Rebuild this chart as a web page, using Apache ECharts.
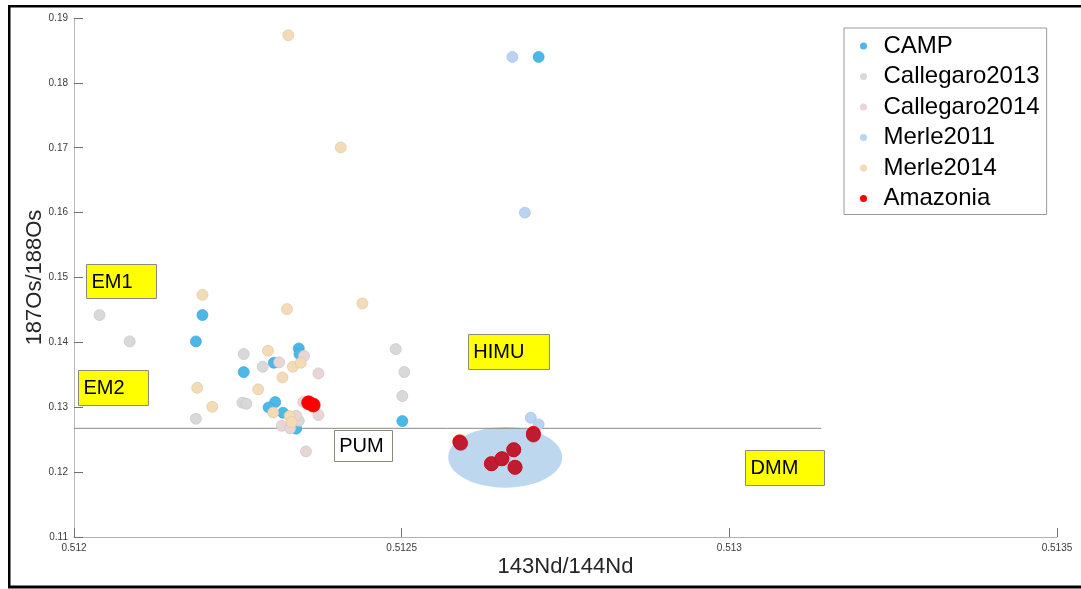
<!DOCTYPE html>
<html>
<head>
<meta charset="utf-8">
<script src="https://cdn.jsdelivr.net/npm/echarts@6/dist/echarts.min.js"></script>
<style>
  html, body { margin: 0; padding: 0; background: #fff; }
  #chart { width: 1081px; height: 589px; }
</style>
</head>
<body>
<div id="chart"></div>
<script>
// 143Nd/144Nd vs 187Os/188Os, one array pair per data set
const campX = [0.512709, 0.512196, 0.512186, 0.512259, 0.512343, 0.512344, 0.512305, 0.512307, 0.512297, 0.512319, 0.512339, 0.512501];
const campY = [0.1840, 0.14421, 0.14015, 0.13542, 0.13907, 0.13820, 0.13686, 0.13080, 0.12998, 0.12915, 0.12670, 0.12787];

const callegaro2013X = [0.512039, 0.512085, 0.512186, 0.512259, 0.512288, 0.512257, 0.512263, 0.512343, 0.512491, 0.512504, 0.512501];
const callegaro2013Y = [0.14421, 0.14015, 0.12823, 0.13820, 0.13624, 0.13070, 0.13054, 0.12792, 0.13897, 0.13542, 0.13173];

const callegaro2014X = [0.512313, 0.512351, 0.512373, 0.512373, 0.512350, 0.512317, 0.512330, 0.512339, 0.512354];
const callegaro2014Y = [0.13693, 0.13792, 0.13522, 0.12880, 0.13080, 0.12715, 0.12675, 0.12868, 0.12320];

const merle2011X = [0.512669, 0.512688, 0.512697, 0.512709];
const merle2011Y = [0.1840, 0.1600, 0.12838, 0.12736];

const merle2014X = [0.512327, 0.512407, 0.512196, 0.512325, 0.512440, 0.512188, 0.512211, 0.512296, 0.512281, 0.512318, 0.512334, 0.512346, 0.512304, 0.512329, 0.512332];
const merle2014Y = [0.18735, 0.17005, 0.14733, 0.14513, 0.14600, 0.13300, 0.13008, 0.13871, 0.13276, 0.13460, 0.13624, 0.13685, 0.12918, 0.12864, 0.12770];

const amazoniaX = [0.512358, 0.512365, 0.5125885, 0.512637, 0.512653, 0.512671, 0.512673, 0.512701];
const amazoniaY = [0.13069, 0.13034, 0.12468, 0.12130, 0.12206, 0.12345, 0.12074, 0.12598];

// darker overlay markers of the Amazonia samples
const amazoniaCoreX = [0.512590, 0.512637, 0.512653, 0.512671, 0.512673, 0.512701];
const amazoniaCoreY = [0.12444, 0.12130, 0.12206, 0.12345, 0.12074, 0.12572];

// primitive upper mantle reference level
const pumLineX = [0.512, 0.51314];
const pumLineY = [0.12675, 0.12675];

// field around the Amazonia cluster: centre and half-axes
const fieldCenter = [0.512658, 0.12228];
const fieldRadius = [0.0000869, 0.00467];

// mantle end-member labels, anchored at the left-middle of each box
const endMemberNames = ['EM1', 'EM2', 'HIMU', 'DMM', 'PUM'];
const endMemberX = [0.5120183, 0.5120061, 0.512601, 0.513024, 0.5123963];
const endMemberY = [0.14945, 0.13304, 0.13858, 0.12071, 0.12410];

const xTicks = [0.512, 0.5125, 0.513, 0.5135];
const yTicks = [0.11, 0.12, 0.13, 0.14, 0.15, 0.16, 0.17, 0.18, 0.19];

const FONT = '"Liberation Sans", Arial, Helvetica, sans-serif';

const boxStyle = {
  EM1:  { w: 70, h: 34, fill: '#ffff00' },
  EM2:  { w: 70, h: 35, fill: '#ffff00' },
  HIMU: { w: 81, h: 35, fill: '#ffff00' },
  DMM:  { w: 79, h: 35, fill: '#ffff00' },
  PUM:  { w: 58, h: 31, fill: '#ffffff' }
};

const zip = (xs, ys) => xs.map((x, i) => [x, ys[i]]);

function scatter(name, xs, ys, color, border, size, z) {
  return {
    name: name,
    type: 'scatter',
    data: zip(xs, ys),
    symbol: 'circle',
    symbolSize: size,
    z: z,
    itemStyle: { color: color, borderColor: border, borderWidth: 0.7, opacity: 1 },
    emphasis: { disabled: true }
  };
}

const chart = echarts.init(document.getElementById('chart'), null, { renderer: 'canvas' });

chart.setOption({
  animation: false,
  backgroundColor: '#ffffff',
  textStyle: { fontFamily: FONT },
  grid: { left: 74, right: 24, top: 18, bottom: 52 },
  xAxis: {
    type: 'value',
    min: xTicks[0],
    max: xTicks[xTicks.length - 1],
    interval: xTicks[1] - xTicks[0],
    name: '143Nd/144Nd',
    nameLocation: 'middle',
    nameGap: 19,
    nameMoveOverlap: false,
    nameTextStyle: { fontSize: 22, color: '#262626', fontFamily: FONT },
    axisLine: { show: true, lineStyle: { color: '#b0b0b0', width: 1 } },
    axisTick: { show: true, inside: true, length: 9, lineStyle: { color: '#707070' } },
    axisLabel: {
      fontSize: 10, color: '#3a3a3a', margin: 6, fontFamily: FONT,
      showMinLabel: true, showMaxLabel: true,
      formatter: v => String(+v.toFixed(4))
    },
    splitLine: { show: false }
  },
  yAxis: {
    type: 'value',
    min: yTicks[0],
    max: yTicks[yTicks.length - 1],
    interval: 0.01,
    name: '187Os/188Os',
    nameLocation: 'middle',
    nameGap: 28,
    nameMoveOverlap: false,
    nameRotate: 90,
    nameTextStyle: { fontSize: 22, color: '#262626', fontFamily: FONT },
    axisLine: { show: true, lineStyle: { color: '#b8b8b8', width: 1 } },
    axisTick: { show: true, inside: true, length: 9, lineStyle: { color: '#707070' } },
    axisLabel: {
      fontSize: 10, color: '#3a3a3a', margin: 6, fontFamily: FONT,
      showMinLabel: true, showMaxLabel: true,
      formatter: v => String(+v.toFixed(2))
    },
    splitLine: { show: false }
  },
  legend: {
    data: ['CAMP', 'Callegaro2013', 'Callegaro2014', 'Merle2011', 'Merle2014', 'Amazonia'],
    orient: 'vertical',
    left: 844,
    top: 28,
    icon: 'circle',
    itemWidth: 30,
    itemHeight: 7,
    itemGap: 6.5,
    padding: [6, 7, 4, 16],
    borderColor: '#9a9a9a',
    borderWidth: 1,
    backgroundColor: '#ffffff',
    itemStyle: { borderWidth: 0 },
    textStyle: { fontSize: 24, lineHeight: 24, color: '#000000', fontFamily: FONT },
    selectedMode: false
  },
  graphic: [
    // slide frame
    { type: 'rect', shape: { x: 8, y: 5, width: 1073, height: 2.5 }, style: { fill: '#000' }, z: 100 },
    { type: 'rect', shape: { x: 8, y: 5, width: 2.5, height: 583 }, style: { fill: '#000' }, z: 100 },
    { type: 'rect', shape: { x: 8, y: 585.5, width: 1073, height: 3 }, style: { fill: '#000' }, z: 100 }
  ],
  series: [
    {
      name: 'field',
      type: 'custom',
      z: 1,
      silent: true,
      data: [[fieldCenter[0], fieldCenter[1], fieldRadius[0], fieldRadius[1]]],
      encode: { x: 0, y: 1 },
      renderItem: function (params, api) {
        const cx = api.value(0), cy = api.value(1), rx = api.value(2), ry = api.value(3);
        const pts = [];
        for (let k = 0; k < 72; k++) {
          const t = (k / 72) * Math.PI * 2;
          pts.push(api.coord([cx + rx * Math.cos(t), cy + ry * Math.sin(t)]));
        }
        return { type: 'polygon', shape: { points: pts }, style: { fill: '#bcd7ee', stroke: null } };
      }
    },
    {
      name: 'PUM level',
      type: 'line',
      z: 2,
      silent: true,
      data: zip(pumLineX, pumLineY),
      symbol: 'none',
      lineStyle: { color: '#8a8a8a', width: 1 }
    },
    scatter('CAMP', campX, campY, '#4cb8e8', '#3fa6d6', 11, 3),
    scatter('Callegaro2013', callegaro2013X, callegaro2013Y, '#d9d9d9', '#c6c6c6', 11, 4),
    scatter('Callegaro2014', callegaro2014X, callegaro2014Y, '#e8d5d6', '#d6c2c3', 11, 5),
    scatter('Merle2011', merle2011X, merle2011Y, '#b8d4f0', '#a6c3e0', 11, 6),
    scatter('Merle2014', merle2014X, merle2014Y, '#f2dbb6', '#e0c9a2', 11, 7),
    scatter('Amazonia', amazoniaX, amazoniaY, '#ff0000', '#ee0000', 14, 8),
    scatter('Amazonia core', amazoniaCoreX, amazoniaCoreY, '#c11b31', '#b01528', 14, 9),
    {
      name: 'end members',
      type: 'custom',
      z: 10,
      silent: true,
      data: zip(endMemberX, endMemberY),
      encode: { x: 0, y: 1 },
      renderItem: function (params, api) {
        const p = api.coord([api.value(0), api.value(1)]);
        const label = endMemberNames[params.dataIndex];
        const s = boxStyle[label];
        return {
          type: 'group',
          children: [
            {
              type: 'rect',
              shape: { x: Math.round(p[0]) + 0.5, y: Math.round(p[1] - s.h / 2) + 0.5, width: s.w, height: s.h },
              style: { fill: s.fill, stroke: '#8c8c7a', lineWidth: 1 }
            },
            {
              type: 'text',
              style: {
                text: label, x: p[0] + 5.5, y: p[1] + 1,
                verticalAlign: 'middle', align: 'left',
                fontSize: 20, fontFamily: FONT, fill: '#000000'
              }
            }
          ]
        };
      }
    }
  ]
});
</script>
</body>
</html>
